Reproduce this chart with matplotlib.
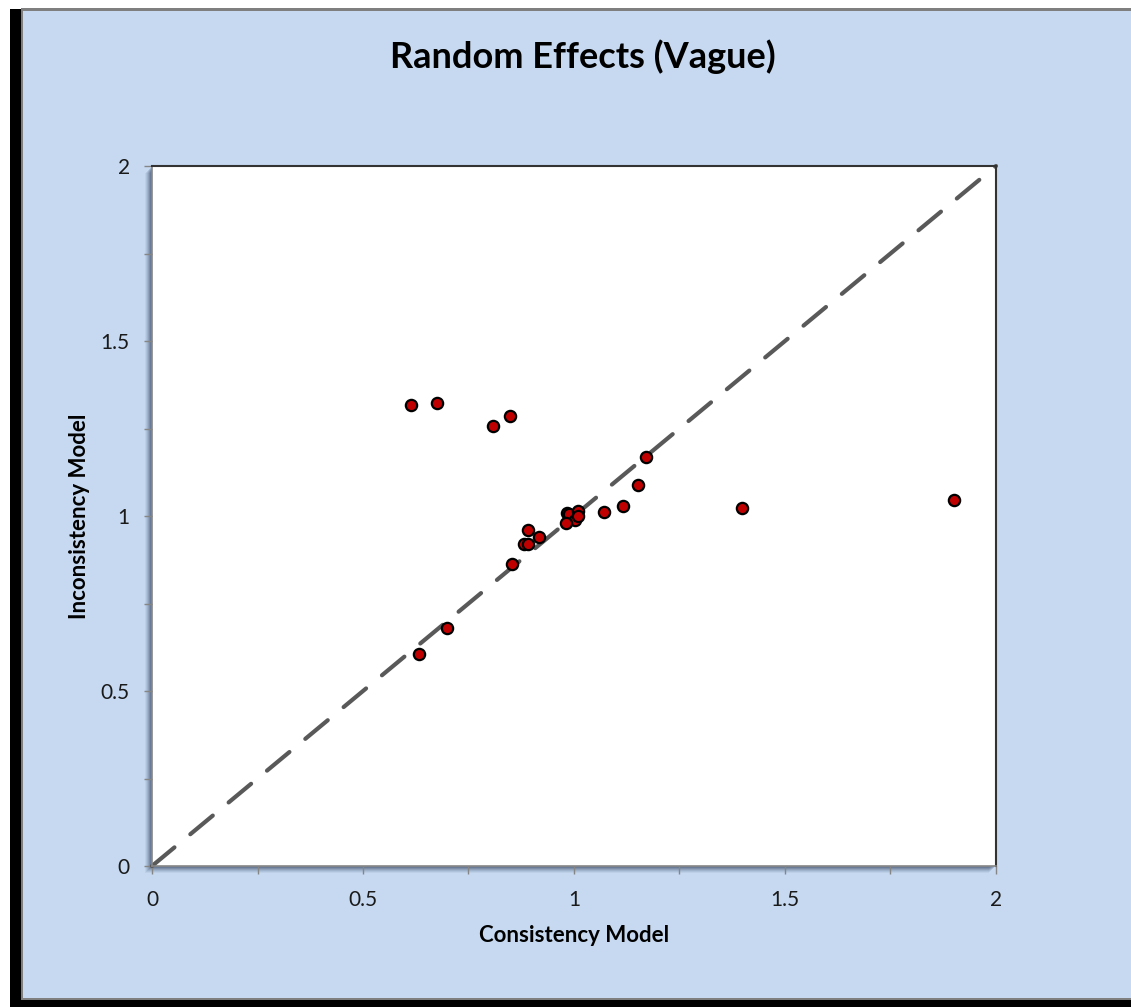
import matplotlib
matplotlib.use("Agg")
import matplotlib.pyplot as plt
from matplotlib.patches import Rectangle
from matplotlib.ticker import MultipleLocator

# ---- data ----
consistency = [0.614, 0.675, 0.808, 0.849, 1.171, 1.152, 1.070, 1.115, 1.398, 1.900,
               0.983, 0.989, 1.010, 1.002, 1.010, 0.981, 0.892, 0.918, 0.882, 0.892,
               0.852, 0.698, 0.633]
inconsistency = [1.317, 1.323, 1.256, 1.285, 1.168, 1.088, 1.012, 1.028, 1.023, 1.046,
                 1.008, 1.006, 1.014, 0.989, 1.000, 0.981, 0.959, 0.939, 0.919, 0.919,
                 0.862, 0.681, 0.605]
identity = [0, 2]
ticks = [0, 0.5, 1, 1.5, 2]
tick_labels = ["0", "0.5", "1", "1.5", "2"]

W, H = 1131, 1007
plt.rcParams['font.family'] = ['Lato', 'DejaVu Sans']
fig = plt.figure(figsize=(W / 100, H / 100), dpi=100, facecolor='white')

def fx(px):
    return px / W

def fy(py):
    return 1 - py / H

def rect_px(x0, y0, x1, y1, **kw):
    r = Rectangle((fx(x0), fy(y1)), fx(x1) - fx(x0), fy(y0) - fy(y1),
                  transform=fig.transFigure, **kw)
    fig.add_artist(r)
    return r

# outer frame: black shadow left/bottom, blue panel
rect_px(10, 9, W, H, facecolor='black', edgecolor='none', zorder=-5)
rect_px(21, 8, W, 1000, facecolor='#7f7f7f', edgecolor='none', zorder=-4)
rect_px(23, 11, W, 998, facecolor='#C6D9F1', edgecolor='none', zorder=-3)

# plot area shadow
for i, a in enumerate([0.06, 0.08, 0.10, 0.13, 0.16, 0.2]):
    off = 7 - i
    rect_px(152 - off, 166 + off, 996 - off, 866 + off,
            facecolor='#1f2f4f', edgecolor='none', alpha=a, zorder=-2)

ax = fig.add_axes([fx(152), fy(866), fx(996) - fx(152), fy(166) - fy(866)])
ax.set_facecolor('white')

ax.plot(identity, identity, color='#595959', lw=3.0, dashes=(7, 4.95),
        dash_capstyle='round', zorder=2, clip_on=False)
ax.scatter(consistency, inconsistency, s=66, c='#C00000', edgecolors='black',
           linewidths=1.6, zorder=3, clip_on=False)

ax.set_xlim(0, 2)
ax.set_ylim(0, 2)
ax.set_xticks(ticks)
ax.set_xticklabels(tick_labels)
ax.set_yticks(ticks)
ax.set_yticklabels(tick_labels)
ax.xaxis.set_minor_locator(MultipleLocator(0.25))
ax.yaxis.set_minor_locator(MultipleLocator(0.25))
ax.tick_params(axis='both', which='both', direction='out', length=6, width=1,
               color='#868686', labelsize=15, labelcolor='#1a1a1a')
ax.tick_params(axis='x', pad=11)
ax.tick_params(axis='y', pad=10)

for side in ['left', 'bottom']:
    ax.spines[side].set_color('#868686')
    ax.spines[side].set_linewidth(1.2)
for side in ['top', 'right']:
    ax.spines[side].set_color('#333333')
    ax.spines[side].set_linewidth(1.5)

ax.set_xlabel('Consistency Model', fontsize=16, fontweight='bold', labelpad=11)
ax.set_ylabel('Inconsistency Model', fontsize=16, fontweight='bold', labelpad=8)

fig.text(fx(583), fy(57), 'Random Effects (Vague)', fontsize=26, fontweight='bold',
         ha='center', va='center', color='black')

fig.savefig('out.png', dpi=100, facecolor=fig.get_facecolor())
